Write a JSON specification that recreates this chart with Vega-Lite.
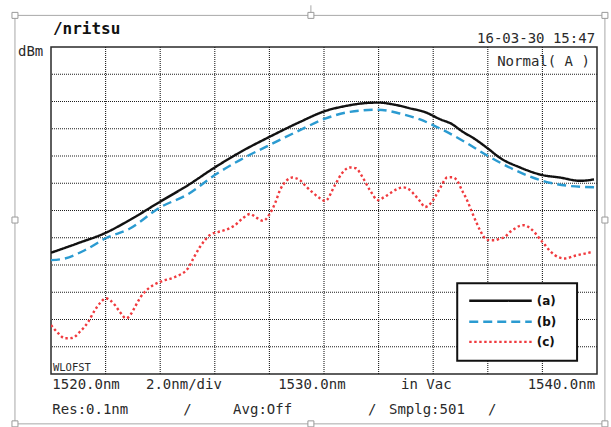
{
  "$schema": "https://vega.github.io/schema/vega-lite/v6.json",
  "width": 546,
  "height": 327,
  "autosize": {"type": "none"},
  "padding": {"left": 51, "top": 47, "right": 14, "bottom": 53},
  "background": "white",
  "config": {
    "view": {"stroke": "#2a2a2a", "strokeWidth": 1.5},
    "axis": {"disable": true}
  },
  "datasets": {
    "gridWl": [
      {"wl": 1522}, {"wl": 1524}, {"wl": 1526}, {"wl": 1528}, {"wl": 1530},
      {"wl": 1532}, {"wl": 1534}, {"wl": 1536}, {"wl": 1538}
    ],
    "gridLevel": [
      {"level": 1}, {"level": 2}, {"level": 3}, {"level": 4}, {"level": 5}, {"level": 6},
      {"level": 7}, {"level": 8}, {"level": 9}, {"level": 10}, {"level": 11}
    ],
    "spectra": [
      {"wl": 1520.00, "level": 4.45, "trace": "(a)"},
      {"wl": 1520.99, "level": 4.80, "trace": "(a)"},
      {"wl": 1522.00, "level": 5.18, "trace": "(a)"},
      {"wl": 1523.00, "level": 5.72, "trace": "(a)"},
      {"wl": 1523.99, "level": 6.32, "trace": "(a)"},
      {"wl": 1525.02, "level": 6.93, "trace": "(a)"},
      {"wl": 1526.00, "level": 7.58, "trace": "(a)"},
      {"wl": 1527.00, "level": 8.18, "trace": "(a)"},
      {"wl": 1528.00, "level": 8.70, "trace": "(a)"},
      {"wl": 1529.12, "level": 9.25, "trace": "(a)"},
      {"wl": 1530.04, "level": 9.65, "trace": "(a)"},
      {"wl": 1530.77, "level": 9.83, "trace": "(a)"},
      {"wl": 1531.50, "level": 9.94, "trace": "(a)"},
      {"wl": 1531.98, "level": 9.96, "trace": "(a)"},
      {"wl": 1532.60, "level": 9.88, "trace": "(a)"},
      {"wl": 1533.15, "level": 9.75, "trace": "(a)"},
      {"wl": 1533.70, "level": 9.61, "trace": "(a)"},
      {"wl": 1534.25, "level": 9.35, "trace": "(a)"},
      {"wl": 1534.69, "level": 9.17, "trace": "(a)"},
      {"wl": 1535.05, "level": 8.91, "trace": "(a)"},
      {"wl": 1535.53, "level": 8.62, "trace": "(a)"},
      {"wl": 1536.01, "level": 8.27, "trace": "(a)"},
      {"wl": 1536.45, "level": 7.93, "trace": "(a)"},
      {"wl": 1537.18, "level": 7.58, "trace": "(a)"},
      {"wl": 1538.00, "level": 7.30, "trace": "(a)"},
      {"wl": 1538.64, "level": 7.21, "trace": "(a)"},
      {"wl": 1539.38, "level": 7.09, "trace": "(a)"},
      {"wl": 1539.89, "level": 7.14, "trace": "(a)"},

      {"wl": 1520.00, "level": 4.18, "trace": "(b)"},
      {"wl": 1520.51, "level": 4.24, "trace": "(b)"},
      {"wl": 1521.25, "level": 4.55, "trace": "(b)"},
      {"wl": 1522.00, "level": 4.98, "trace": "(b)"},
      {"wl": 1522.89, "level": 5.34, "trace": "(b)"},
      {"wl": 1523.99, "level": 6.11, "trace": "(b)"},
      {"wl": 1525.02, "level": 6.60, "trace": "(b)"},
      {"wl": 1526.00, "level": 7.30, "trace": "(b)"},
      {"wl": 1526.92, "level": 7.85, "trace": "(b)"},
      {"wl": 1528.00, "level": 8.40, "trace": "(b)"},
      {"wl": 1529.12, "level": 8.95, "trace": "(b)"},
      {"wl": 1530.04, "level": 9.37, "trace": "(b)"},
      {"wl": 1530.95, "level": 9.62, "trace": "(b)"},
      {"wl": 1531.98, "level": 9.70, "trace": "(b)"},
      {"wl": 1532.78, "level": 9.56, "trace": "(b)"},
      {"wl": 1533.52, "level": 9.34, "trace": "(b)"},
      {"wl": 1534.25, "level": 9.01, "trace": "(b)"},
      {"wl": 1535.05, "level": 8.58, "trace": "(b)"},
      {"wl": 1536.01, "level": 8.00, "trace": "(b)"},
      {"wl": 1537.00, "level": 7.48, "trace": "(b)"},
      {"wl": 1538.00, "level": 7.09, "trace": "(b)"},
      {"wl": 1539.01, "level": 6.90, "trace": "(b)"},
      {"wl": 1540.00, "level": 6.85, "trace": "(b)"},

      {"wl": 1520.00, "level": 1.80, "trace": "(c)"},
      {"wl": 1520.26, "level": 1.50, "trace": "(c)"},
      {"wl": 1520.51, "level": 1.31, "trace": "(c)"},
      {"wl": 1520.77, "level": 1.32, "trace": "(c)"},
      {"wl": 1521.06, "level": 1.55, "trace": "(c)"},
      {"wl": 1521.36, "level": 1.91, "trace": "(c)"},
      {"wl": 1521.61, "level": 2.35, "trace": "(c)"},
      {"wl": 1521.83, "level": 2.64, "trace": "(c)"},
      {"wl": 1522.00, "level": 2.78, "trace": "(c)"},
      {"wl": 1522.16, "level": 2.71, "trace": "(c)"},
      {"wl": 1522.34, "level": 2.53, "trace": "(c)"},
      {"wl": 1522.53, "level": 2.27, "trace": "(c)"},
      {"wl": 1522.75, "level": 2.04, "trace": "(c)"},
      {"wl": 1522.93, "level": 2.20, "trace": "(c)"},
      {"wl": 1523.08, "level": 2.47, "trace": "(c)"},
      {"wl": 1523.26, "level": 2.79, "trace": "(c)"},
      {"wl": 1523.44, "level": 3.02, "trace": "(c)"},
      {"wl": 1523.70, "level": 3.23, "trace": "(c)"},
      {"wl": 1523.99, "level": 3.38, "trace": "(c)"},
      {"wl": 1524.54, "level": 3.56, "trace": "(c)"},
      {"wl": 1525.02, "level": 3.88, "trace": "(c)"},
      {"wl": 1525.24, "level": 4.29, "trace": "(c)"},
      {"wl": 1525.46, "level": 4.67, "trace": "(c)"},
      {"wl": 1525.64, "level": 4.91, "trace": "(c)"},
      {"wl": 1525.82, "level": 5.10, "trace": "(c)"},
      {"wl": 1526.12, "level": 5.21, "trace": "(c)"},
      {"wl": 1526.37, "level": 5.28, "trace": "(c)"},
      {"wl": 1526.74, "level": 5.46, "trace": "(c)"},
      {"wl": 1527.03, "level": 5.72, "trace": "(c)"},
      {"wl": 1527.29, "level": 5.87, "trace": "(c)"},
      {"wl": 1527.55, "level": 5.72, "trace": "(c)"},
      {"wl": 1527.77, "level": 5.62, "trace": "(c)"},
      {"wl": 1528.02, "level": 5.89, "trace": "(c)"},
      {"wl": 1528.21, "level": 6.27, "trace": "(c)"},
      {"wl": 1528.39, "level": 6.75, "trace": "(c)"},
      {"wl": 1528.61, "level": 7.08, "trace": "(c)"},
      {"wl": 1528.83, "level": 7.21, "trace": "(c)"},
      {"wl": 1529.12, "level": 7.11, "trace": "(c)"},
      {"wl": 1529.34, "level": 6.89, "trace": "(c)"},
      {"wl": 1529.56, "level": 6.68, "trace": "(c)"},
      {"wl": 1529.85, "level": 6.45, "trace": "(c)"},
      {"wl": 1530.04, "level": 6.35, "trace": "(c)"},
      {"wl": 1530.40, "level": 6.93, "trace": "(c)"},
      {"wl": 1530.66, "level": 7.37, "trace": "(c)"},
      {"wl": 1530.95, "level": 7.58, "trace": "(c)"},
      {"wl": 1531.17, "level": 7.55, "trace": "(c)"},
      {"wl": 1531.39, "level": 7.26, "trace": "(c)"},
      {"wl": 1531.68, "level": 6.75, "trace": "(c)"},
      {"wl": 1531.98, "level": 6.38, "trace": "(c)"},
      {"wl": 1532.20, "level": 6.49, "trace": "(c)"},
      {"wl": 1532.42, "level": 6.63, "trace": "(c)"},
      {"wl": 1532.67, "level": 6.78, "trace": "(c)"},
      {"wl": 1532.89, "level": 6.85, "trace": "(c)"},
      {"wl": 1533.11, "level": 6.78, "trace": "(c)"},
      {"wl": 1533.33, "level": 6.56, "trace": "(c)"},
      {"wl": 1533.52, "level": 6.34, "trace": "(c)"},
      {"wl": 1533.70, "level": 6.13, "trace": "(c)"},
      {"wl": 1533.88, "level": 6.23, "trace": "(c)"},
      {"wl": 1534.07, "level": 6.50, "trace": "(c)"},
      {"wl": 1534.29, "level": 6.89, "trace": "(c)"},
      {"wl": 1534.51, "level": 7.21, "trace": "(c)"},
      {"wl": 1534.69, "level": 7.22, "trace": "(c)"},
      {"wl": 1534.87, "level": 7.11, "trace": "(c)"},
      {"wl": 1535.05, "level": 6.75, "trace": "(c)"},
      {"wl": 1535.24, "level": 6.38, "trace": "(c)"},
      {"wl": 1535.42, "level": 5.94, "trace": "(c)"},
      {"wl": 1535.60, "level": 5.52, "trace": "(c)"},
      {"wl": 1535.75, "level": 5.21, "trace": "(c)"},
      {"wl": 1535.90, "level": 4.98, "trace": "(c)"},
      {"wl": 1536.08, "level": 4.91, "trace": "(c)"},
      {"wl": 1536.26, "level": 4.91, "trace": "(c)"},
      {"wl": 1536.45, "level": 4.97, "trace": "(c)"},
      {"wl": 1536.63, "level": 5.03, "trace": "(c)"},
      {"wl": 1536.81, "level": 5.21, "trace": "(c)"},
      {"wl": 1537.00, "level": 5.34, "trace": "(c)"},
      {"wl": 1537.18, "level": 5.44, "trace": "(c)"},
      {"wl": 1537.33, "level": 5.46, "trace": "(c)"},
      {"wl": 1537.55, "level": 5.35, "trace": "(c)"},
      {"wl": 1537.73, "level": 5.18, "trace": "(c)"},
      {"wl": 1537.91, "level": 4.95, "trace": "(c)"},
      {"wl": 1538.10, "level": 4.73, "trace": "(c)"},
      {"wl": 1538.28, "level": 4.51, "trace": "(c)"},
      {"wl": 1538.46, "level": 4.36, "trace": "(c)"},
      {"wl": 1538.64, "level": 4.27, "trace": "(c)"},
      {"wl": 1538.83, "level": 4.24, "trace": "(c)"},
      {"wl": 1539.19, "level": 4.34, "trace": "(c)"},
      {"wl": 1539.56, "level": 4.42, "trace": "(c)"},
      {"wl": 1539.82, "level": 4.48, "trace": "(c)"}
    ],
    "legendRows": [
      {"x1": 1535.32, "x2": 1537.61, "level": 2.69, "trace": "(a)"},
      {"x1": 1535.32, "x2": 1537.61, "level": 1.92, "trace": "(b)"},
      {"x1": 1535.32, "x2": 1537.61, "level": 1.18, "trace": "(c)"}
    ]
  },
  "layer": [
    {
      "description": "Picture selection border around the screen capture",
      "data": {"values": [{"x1": 1518.68, "x2": 1540.29, "y1": 13.16, "y2": -1.83}]},
      "mark": {"type": "rect", "fill": null, "stroke": "#a8a8a8", "strokeWidth": 1},
      "encoding": {
        "x": {"field": "x1", "type": "quantitative", "scale": {"domain": [1520, 1540], "nice": false, "zero": false}},
        "x2": {"field": "x2"},
        "y": {"field": "y1", "type": "quantitative", "scale": {"domain": [0, 12], "nice": false, "zero": false}},
        "y2": {"field": "y2"}
      }
    },
    {
      "data": {"values": [{"sx": 1529.52, "sy1": 13.53, "sy2": 13.16}]},
      "mark": {"type": "rule", "stroke": "#a8a8a8", "strokeWidth": 1},
      "encoding": {
        "x": {"field": "sx", "type": "quantitative"},
        "y": {"field": "sy1", "type": "quantitative"},
        "y2": {"field": "sy2"}
      }
    },
    {
      "data": {"values": [
        {"hx": 1518.68, "hy": 13.16}, {"hx": 1529.52, "hy": 13.16}, {"hx": 1540.29, "hy": 13.16},
        {"hx": 1518.68, "hy": 5.65}, {"hx": 1540.29, "hy": 5.65},
        {"hx": 1518.68, "hy": -1.83}, {"hx": 1529.52, "hy": -1.83}, {"hx": 1540.29, "hy": -1.83}
      ]},
      "mark": {"type": "point", "shape": "square", "size": 36, "filled": true, "fill": "white", "stroke": "#9a9a9a", "strokeWidth": 1, "opacity": 1},
      "encoding": {
        "x": {"field": "hx", "type": "quantitative"},
        "y": {"field": "hy", "type": "quantitative"}
      }
    },
    {
      "description": "Vertical division lines, 2 nm apart",
      "data": {"name": "gridWl"},
      "mark": {"type": "rule", "stroke": "#1e1e1e", "strokeWidth": 1.1, "strokeDash": [1, 1]},
      "encoding": {"x": {"field": "wl", "type": "quantitative"}}
    },
    {
      "description": "Horizontal division lines",
      "data": {"name": "gridLevel"},
      "mark": {"type": "rule", "stroke": "#1e1e1e", "strokeWidth": 1.1, "strokeDash": [1, 1]},
      "encoding": {"y": {"field": "level", "type": "quantitative"}}
    },
    {
      "data": {"name": "spectra"},
      "mark": {"type": "line", "interpolate": "monotone", "strokeWidth": 2.4, "strokeCap": "butt", "clip": true},
      "encoding": {
        "x": {"field": "wl", "type": "quantitative", "scale": {"domain": [1520, 1540], "nice": false, "zero": false}},
        "y": {"field": "level", "type": "quantitative", "scale": {"domain": [0, 12], "nice": false, "zero": false}},
        "color": {"field": "trace", "type": "nominal", "scale": {"domain": ["(a)", "(b)", "(c)"], "range": ["#111111", "#2b9bd1", "#f03a3e"]}, "legend": null},
        "strokeDash": {"field": "trace", "type": "nominal", "scale": {"domain": ["(a)", "(b)", "(c)"], "range": [[1, 0], [9, 5], [2.4, 2.6]]}, "legend": null},
        "order": {"field": "wl", "type": "quantitative"}
      }
    },
    {
      "description": "Legend frame",
      "data": {"values": [{"x1": 1534.88, "x2": 1539.27, "y1": 3.33, "y2": 0.49}]},
      "mark": {"type": "rect", "fill": "white", "stroke": "#111111", "strokeWidth": 2},
      "encoding": {
        "x": {"field": "x1", "type": "quantitative"},
        "x2": {"field": "x2"},
        "y": {"field": "y1", "type": "quantitative"},
        "y2": {"field": "y2"}
      }
    },
    {
      "data": {"name": "legendRows"},
      "mark": {"type": "rule", "strokeWidth": 2.4, "strokeCap": "butt"},
      "encoding": {
        "x": {"field": "x1", "type": "quantitative"},
        "x2": {"field": "x2"},
        "y": {"field": "level", "type": "quantitative"},
        "color": {"field": "trace", "type": "nominal", "legend": null},
        "strokeDash": {"field": "trace", "type": "nominal", "legend": null}
      }
    },
    {
      "data": {"name": "legendRows"},
      "mark": {"type": "text", "align": "left", "baseline": "middle", "font": "DejaVu Sans", "fontWeight": "bold", "fontSize": 12, "dx": 5, "color": "#111111"},
      "encoding": {
        "x": {"field": "x2", "type": "quantitative"},
        "y": {"field": "level", "type": "quantitative"},
        "text": {"field": "trace"}
      }
    },
    {
      "description": "Instrument annotations, left aligned",
      "data": {"values": [
        {"wl": 1518.79, "level": 11.66, "text": "dBm"},
        {"wl": 1520.05, "level": -0.55, "text": "1520.0nm"},
        {"wl": 1523.48, "level": -0.55, "text": "2.0nm/div"},
        {"wl": 1528.32, "level": -0.55, "text": "1530.0nm"},
        {"wl": 1532.82, "level": -0.55, "text": "in Vac"},
        {"wl": 1520.05, "level": -1.45, "text": "Res:0.1nm"},
        {"wl": 1524.84, "level": -1.45, "text": "/"},
        {"wl": 1526.67, "level": -1.45, "text": "Avg:Off"},
        {"wl": 1531.61, "level": -1.45, "text": "/"},
        {"wl": 1532.38, "level": -1.45, "text": "Smplg:501"},
        {"wl": 1536.01, "level": -1.45, "text": "/"}
      ]},
      "mark": {"type": "text", "align": "left", "baseline": "alphabetic", "font": "DejaVu Sans Mono", "fontSize": 14, "color": "#2a2a2a"},
      "encoding": {
        "x": {"field": "wl", "type": "quantitative"},
        "y": {"field": "level", "type": "quantitative"},
        "text": {"field": "text"}
      }
    },
    {
      "description": "Instrument annotations, right aligned",
      "data": {"values": [
        {"wl": 1539.93, "level": -0.55, "text": "1540.0nm"},
        {"wl": 1539.93, "level": 12.15, "text": "16-03-30 15:47"},
        {"wl": 1539.74, "level": 11.29, "text": "Normal( A )"}
      ]},
      "mark": {"type": "text", "align": "right", "baseline": "alphabetic", "font": "DejaVu Sans Mono", "fontSize": 14, "color": "#2a2a2a"},
      "encoding": {
        "x": {"field": "wl", "type": "quantitative"},
        "y": {"field": "level", "type": "quantitative"},
        "text": {"field": "text"}
      }
    },
    {
      "data": {"values": [{"wl": 1520.07, "level": 12.48, "text": "/nritsu"}]},
      "mark": {"type": "text", "align": "left", "baseline": "alphabetic", "font": "DejaVu Sans Mono", "fontWeight": "bold", "fontSize": 16, "color": "#111111"},
      "encoding": {
        "x": {"field": "wl", "type": "quantitative"},
        "y": {"field": "level", "type": "quantitative"},
        "text": {"field": "text"}
      }
    },
    {
      "data": {"values": [{"wl": 1520.07, "level": 0.1, "text": "WLOFST"}]},
      "mark": {"type": "text", "align": "left", "baseline": "alphabetic", "font": "DejaVu Sans Mono", "fontSize": 10.5, "color": "#2a2a2a"},
      "encoding": {
        "x": {"field": "wl", "type": "quantitative"},
        "y": {"field": "level", "type": "quantitative"},
        "text": {"field": "text"}
      }
    }
  ]
}
